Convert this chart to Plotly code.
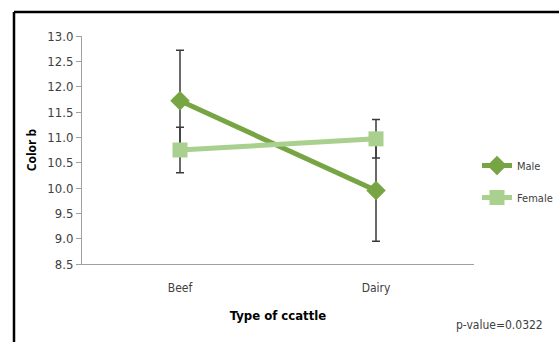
import plotly.graph_objects as go

categories = ["Beef", "Dairy"]
male = [11.72, 9.95]
male_err = [1.0, 1.0]
female = [10.75, 10.97]
female_err = [0.45, 0.38]
y_ticks = [8.5, 9.0, 9.5, 10.0, 10.5, 11.0, 11.5, 12.0, 12.5, 13.0]

W, H = 559, 342
L, R, T, B = 82, 85, 36, 78
pw, ph = W - L - R, H - T - B

def px(x):
    return (x - L) / pw

def py(y):
    return (H - B - y) / ph

font = "Liberation Sans Narrow, DejaVu Sans Condensed, Arial Narrow, sans-serif"

fig = go.Figure()
fig.add_trace(go.Scatter(
    x=categories, y=male, name="Male", mode="lines+markers", legendgroup="m",
    line=dict(color="#77a543", width=5),
    marker=dict(symbol="diamond", size=15, color="#77a543"),
    error_y=dict(type="data", array=male_err, color="#3a3a3a", thickness=1.5, width=4),
))
fig.add_trace(go.Scatter(
    x=categories, y=female, name="Female", mode="lines+markers", legendgroup="f",
    line=dict(color="#a9d08e", width=5),
    marker=dict(symbol="square", size=15, color="#a9d08e"),
    error_y=dict(type="data", array=female_err, color="#3a3a3a", thickness=1.5, width=4),
))

fig.update_layout(
    width=W, height=H,
    margin=dict(l=L, r=R, t=T, b=B, autoexpand=False),
    paper_bgcolor="white", plot_bgcolor="white",
    font=dict(family=font, size=12, color="#404040"),
    showlegend=True,
    legend=dict(x=px(477), y=py(151), xanchor="left", yanchor="top",
                font=dict(family=font, size=11, color="#404040"),
                traceorder="grouped", tracegroupgap=13, itemwidth=30,
                bgcolor="rgba(0,0,0,0)"),
    xaxis=dict(type="category", range=[-0.5, 1.5], showline=True, linecolor="#a0a0a0",
               linewidth=1, ticks="", showgrid=False, zeroline=False,
               ticklabelstandoff=13,
               tickfont=dict(family=font, size=12, color="#404040"),
               title=dict(text="<b>Type of ccattle</b>", standoff=16,
                          font=dict(family=font, size=13, color="#000000"))),
    yaxis=dict(range=[8.5, 13.0], tickvals=y_ticks, ticktext=[f"{v:.1f}" for v in y_ticks],
               showline=True, linecolor="#a0a0a0", linewidth=1, ticks="outside",
               ticklen=5, tickcolor="#a0a0a0", showgrid=False, zeroline=False,
               tickfont=dict(family=font, size=13, color="#404040"),
               title=dict(text="<b>Color b</b>", standoff=8,
                          font=dict(family="Open Sans, sans-serif", size=12, color="#000000"))),
)

# outer border (top and left)
fig.add_shape(type="line", xref="paper", yref="paper", x0=px(14), y0=py(12), x1=px(W + 5), y1=py(12),
              line=dict(color="black", width=2.5))
fig.add_shape(type="line", xref="paper", yref="paper", x0=px(14), y0=py(12), x1=px(14), y1=py(H + 5),
              line=dict(color="black", width=2.5))

fig.add_annotation(text="p-value=0.0322", xref="paper", yref="paper", x=px(499), y=py(325),
                   showarrow=False, xanchor="center", yanchor="middle",
                   font=dict(family=font, size=12, color="#404040"))

fig.write_html("out.html")
